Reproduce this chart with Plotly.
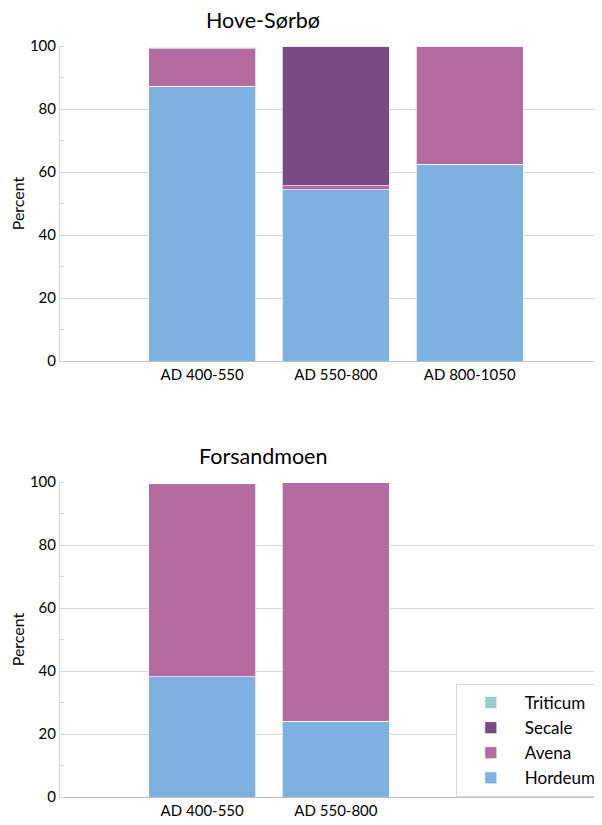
import plotly.graph_objects as go

# ---- data ----
cats_hove = ["AD 400-550", "AD 550-800", "AD 800-1050"]
hove_hordeum = [87.3, 54.3, 62.5]
hove_avena = [11.8, 1.3, 37.5]
hove_secale = [0.5, 44.4, 0.0]
hove_triticum = [0.0, 0.0, 0.0]

cats_fors = ["AD 400-550", "AD 550-800"]
fors_hordeum = [38.1, 24.1]
fors_avena = [61.3, 75.9]
fors_secale = [0.0, 0.0]
fors_triticum = [0.0, 0.0]

series_names = ["Hordeum", "Avena", "Secale", "Triticum"]
colors = {"Hordeum": "#7EB1E0", "Avena": "#B36BA1", "Secale": "#774A85", "Triticum": "#9BCCCD"}

# page has an 8px body margin: figure coords = page coords - 8
OFF = 8
W, H = 602 - OFF, 825 - OFF
ML, MR, MT, MB = 60 - OFF, 0, 46 - OFF, H - (797 - OFF)
PH = H - MT - MB
PW = W - ML - MR
FONT = "Lato"

fig = go.Figure()

hove = {"Hordeum": hove_hordeum, "Avena": hove_avena, "Secale": hove_secale, "Triticum": hove_triticum}
fors = {"Hordeum": fors_hordeum, "Avena": fors_avena, "Secale": fors_secale, "Triticum": fors_triticum}

for name in series_names:
    fig.add_trace(go.Bar(x=cats_hove, y=hove[name], name=name, marker_color=colors[name],
                         marker_line=dict(color="rgba(255,255,255,0.7)", width=1),
                         xaxis="x", yaxis="y", showlegend=False, width=0.8))
for name in series_names:
    fig.add_trace(go.Bar(x=cats_fors, y=fors[name], name=name, marker_color=colors[name],
                         marker_line=dict(color="rgba(255,255,255,0.7)", width=1),
                         xaxis="x2", yaxis="y2", showlegend=True, width=0.8))

def ydom(top, bottom):
    # page pixel rows -> fraction of plotting area
    return [(H - MB - (bottom - OFF)) / PH, (H - MB - (top - OFF)) / PH]

def ypos(py):
    return (H - MB - (py - OFF)) / PH

def xpos(px):
    return ((px - OFF) - ML) / PW

xr = [-1.063, 2.937]

common_y = dict(range=[0, 100], tickvals=[0, 20, 40, 60, 80, 100], showgrid=True,
                gridcolor="#D9D9D9", gridwidth=1, showline=True, linecolor="#D9D9D9",
                ticks="", tickfont=dict(size=15, color="#000000", family=FONT),
                title=dict(text="Percent", font=dict(size=16, color="#000000", family=FONT), standoff=10),
                minor=dict(dtick=10, ticks="inside", ticklen=4, tickcolor="#D9D9D9", showgrid=False),
                zeroline=False, fixedrange=True, automargin=False)
common_x = dict(range=xr, showgrid=False, showline=True, linecolor="#BFBFBF", ticks="",
                tickfont=dict(size=15, color="#000000", family=FONT), type="category",
                automargin=False, domain=[0, 1])

fig.update_layout(
    width=W, height=H,
    margin=dict(l=ML, r=MR, t=MT, b=MB),
    paper_bgcolor="white", plot_bgcolor="white",
    barmode="stack",
    xaxis=dict(anchor="y", **common_x),
    yaxis=dict(domain=ydom(46, 361), anchor="x", **common_y),
    xaxis2=dict(anchor="y2", **common_x),
    yaxis2=dict(domain=ydom(482, 797), anchor="x2", **common_y),
    legend=dict(x=xpos(461), y=ypos(797), xanchor="left", yanchor="bottom",
                traceorder="reversed", bordercolor="#D9D9D9", borderwidth=1,
                itemwidth=58, tracegroupgap=0,
                bgcolor="white", font=dict(size=17, family=FONT, color="#000000")),
    font=dict(family=FONT),
    annotations=[
        dict(text="Hove-Sørbø", x=xpos(266), y=ypos(20), xref="paper", yref="paper",
             xanchor="center", yanchor="middle",
             showarrow=False, font=dict(size=21.5, family=FONT, color="#000000")),
        dict(text="Forsandmoen", x=xpos(266), y=ypos(456), xref="paper", yref="paper",
             xanchor="center", yanchor="middle",
             showarrow=False, font=dict(size=21.5, family=FONT, color="#000000")),
    ],
)

fig.write_html("out.html")
